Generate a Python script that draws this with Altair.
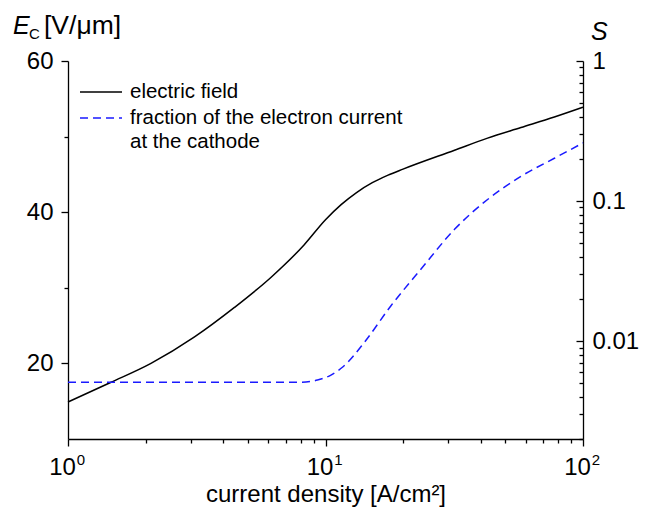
import altair as alt
import pandas as pd

# ---- data ----
# electric field E_C [V/um] vs current density [A/cm2]
e_x = [1, 1.47, 2.1, 3.1, 4.43, 6.15, 8.27, 10, 11.5, 13.2, 15.2, 17.5, 20, 31.7, 42.6, 57.4, 77.4, 100]
e_y = [14.9, 17.5, 20.0, 23.5, 27.4, 31.4, 35.7, 39.0, 41.0, 42.6, 43.9, 44.9, 45.7, 48.2, 49.8, 51.2, 52.6, 53.9]

# fraction of the electron current at the cathode, S
s_x = [1, 3, 5, 8, 9.3, 10.5, 11.7, 14.2, 17.96, 23.5, 31.7, 42.6, 57.4, 77.4, 100]
s_y = [0.00508, 0.00508, 0.00508, 0.00509, 0.00527, 0.00572, 0.00656, 0.00987, 0.0179,
       0.0327, 0.0628, 0.1026, 0.150, 0.202, 0.26]

# axis ticks
x_major = [1, 10, 100]
x_exponents = ["0", "1", "2"]
x_minor = [2, 3, 4, 5, 6, 7, 8, 9, 20, 30, 40, 50, 60, 70, 80, 90]
e_major = [20, 40, 60]
e_minor = [30, 50]
s_major = [0.01, 0.1, 1]
s_minor = [0.002, 0.003, 0.004, 0.005, 0.006, 0.007, 0.008, 0.009,
           0.02, 0.03, 0.04, 0.05, 0.06, 0.07, 0.08, 0.09,
           0.2, 0.3, 0.4, 0.5, 0.6, 0.7, 0.8, 0.9]

legend_labels = ["electric field", "fraction of the electron current", "at the cathode"]
x_title = "current density [A/cm²]"

# ---- styling ----
W, H = 515, 378
FONT = "Liberation Sans"
BLACK = "#000000"
BLUE = "#1a1aff"

edf = pd.DataFrame({"j": e_x, "E": e_y})
sdf = pd.DataFrame({"j": s_x, "S": s_y})
expdf = pd.DataFrame({"j": x_major, "t": x_exponents})

def xscale():
    return alt.Scale(type="log", domain=[1, 100])

def escale():
    return alt.Scale(domain=[10, 60], nice=False, zero=False)

def sscale():
    return alt.Scale(type="log", domain=[0.002, 1], nice=False)

common = dict(domainColor=BLACK, tickColor=BLACK, domainWidth=1.3, tickWidth=1.3,
              labelFont=FONT, labelFontSize=24, labelColor=BLACK, grid=False, title=None)

# main electric field line, bottom major axis and left major axis
e_line = alt.Chart(edf).mark_line(color=BLACK, strokeWidth=1.5, interpolate="monotone").encode(
    x=alt.X("j:Q", scale=xscale(), axis=alt.Axis(
        orient="bottom", values=x_major, tickSize=7, labelExpr="'10'", labelOffset=-6,
        labelPadding=9, labelFlush=False,
        **{k: v for k, v in common.items() if k != "title"},
        title=x_title, titleFont=FONT, titleFontSize=24, titleFontWeight="normal",
        titleColor=BLACK, titlePadding=3)),
    y=alt.Y("E:Q", scale=escale(), axis=alt.Axis(
        orient="left", values=e_major, tickSize=7, labelPadding=8, **common)),
)

# S line, x minor ticks and right axis (domain + labels)
s_line = alt.Chart(sdf).mark_line(color=BLUE, strokeWidth=1.5, strokeDash=[8, 5],
                                   interpolate="monotone").encode(
    x=alt.X("j:Q", scale=xscale(), axis=alt.Axis(
        orient="bottom", values=x_minor, tickSize=4, labels=False, domain=False, **common)),
    y=alt.Y("S:Q", scale=sscale(), axis=alt.Axis(
        orient="right", values=s_major, ticks=False, tickSize=0, labelPadding=9,
        format="~g", **common)),
)

# left minor ticks
e_minor_ax = alt.Chart(edf).mark_line(strokeOpacity=0).encode(
    x=alt.X("j:Q", scale=xscale(), axis=None),
    y=alt.Y("E:Q", scale=escale(), axis=alt.Axis(
        orient="left", values=e_minor, tickSize=4, labels=False, domain=False, **common)),
)

# right major ticks pointing inward
s_major_ax = alt.Chart(sdf).mark_line(strokeOpacity=0).encode(
    x=alt.X("j:Q", scale=xscale(), axis=None),
    y=alt.Y("S:Q", scale=sscale(), axis=alt.Axis(
        orient="right", offset=-7, values=s_major, tickSize=7, labels=False,
        domain=False, **common)),
)

# right minor ticks pointing inward
s_minor_ax = alt.Chart(sdf).mark_line(strokeOpacity=0).encode(
    x=alt.X("j:Q", scale=xscale(), axis=None),
    y=alt.Y("S:Q", scale=sscale(), axis=alt.Axis(
        orient="right", offset=-4, values=s_minor, tickSize=4, labels=False,
        domain=False, **common)),
)

# exponents of the x tick labels
exps = alt.Chart(expdf).mark_text(font=FONT, fontSize=15, color=BLACK, dx=13,
                                  align="center", baseline="alphabetic").encode(
    x=alt.X("j:Q", scale=xscale(), axis=None),
    y=alt.value(H + 26),
    text="t:N",
)

one = alt.Data(values=[{}])

def txt(s, x, y, size=24, style="normal", align="left", baseline="alphabetic"):
    return alt.Chart(one).mark_text(font=FONT, fontSize=size, fontStyle=style, color=BLACK,
                                    align=align, baseline=baseline).encode(
        x=alt.value(x), y=alt.value(y), text=alt.value(s))

titles = [
    txt("E", -55, -27, size=25, style="italic"),
    txt("C", -39, -22, size=15),
    txt("[V/μm]", -24, -27, size=26.5),
    txt("S", 523, -21, size=25, style="italic"),
]

legend = [
    alt.Chart(one).mark_rule(color=BLACK, strokeWidth=1.5).encode(
        x=alt.value(12), x2=alt.value(54), y=alt.value(31)),
    alt.Chart(one).mark_rule(color=BLUE, strokeWidth=1.5, strokeDash=[8, 5]).encode(
        x=alt.value(12), x2=alt.value(54), y=alt.value(57)),
    txt(legend_labels[0], 62, 31, size=20.5, baseline="middle"),
    txt(legend_labels[1], 62, 57, size=20.5, baseline="middle"),
    txt(legend_labels[2], 62, 81, size=20.5, baseline="middle"),
]

chart = alt.layer(
    e_line, s_line, e_minor_ax, s_major_ax, s_minor_ax, exps, *titles, *legend
).resolve_scale(
    x="independent", y="independent"
).properties(
    width=W, height=H,
    autosize=alt.AutoSizeParams(type="none"),
    padding={"left": 60, "top": 53, "right": 57, "bottom": 71},
).configure_view(stroke=None)

chart.save("out.html", embed_options={"renderer": "svg", "actions": False})
